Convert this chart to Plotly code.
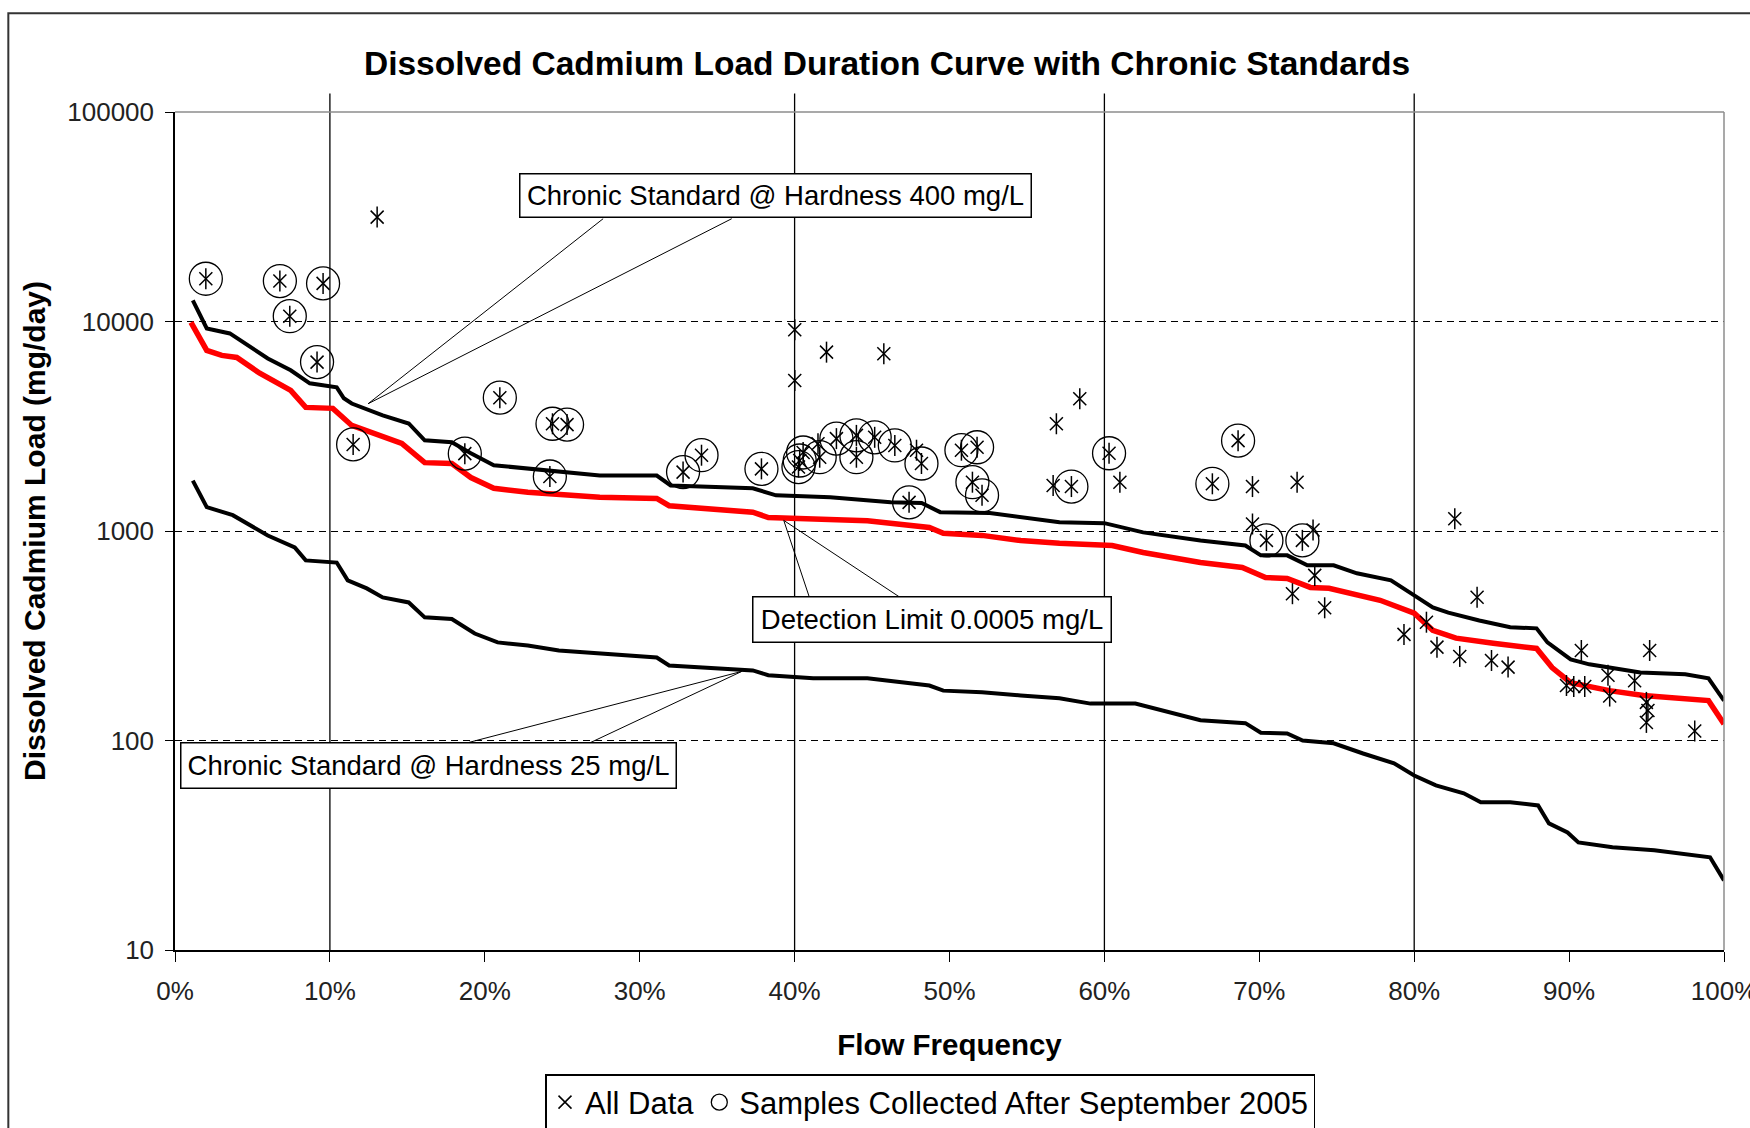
import plotly.graph_objects as go

# ---------------- data ----------------
# Chronic standard @ hardness 400 mg/L (upper black curve)
flow_400 = [1.15, 2.05, 3.54, 5.99, 7.47, 8.70, 10.44, 10.9, 11.41, 13.41, 15.09, 16.12, 17.87, 19.1,
            20.58, 22.78, 26.26, 27.42, 31.1, 32.0, 37.3, 38.8, 42.3, 46.2, 48.2, 49.4, 52.6, 54.6,
            57.1, 60.0, 62.5, 66.2, 69.1, 70.1, 71.8, 73.1, 74.8, 76.3, 78.5, 80.0, 81.2, 82.2, 84.2,
            86.2, 87.9, 88.6, 90.1, 91.3, 94.6, 97.5, 99.0, 100]
load_400 = [12600, 9270, 8770, 6660, 5850, 5070, 4850, 4300, 4060, 3560, 3260, 2710, 2650, 2350,
            2060, 1990, 1880, 1840, 1840, 1650, 1600, 1480, 1450, 1370, 1360, 1230, 1220, 1160,
            1100, 1090, 985, 900, 853, 765, 765, 686, 686, 628, 581, 493, 432, 408, 374,
            347, 343, 294, 244, 231, 211, 207, 198, 155]

# Detection limit 0.0005 mg/L (red curve)
flow_dl = [1.03, 2.05, 3.02, 3.99, 5.47, 7.47, 8.44, 10.19, 11.41, 13.41, 14.64, 16.12, 17.87, 19.1,
           20.58, 22.78, 25.2, 27.42, 31.1, 31.9, 37.3, 38.3, 44.7, 46.2, 48.7, 49.6, 52.1, 54.6,
           57.1, 60.5, 62.5, 66.2, 68.9, 70.4, 71.8, 73.3, 74.5, 77.8, 80.0, 81.2, 82.7, 85.1,
           87.9, 88.9, 90.1, 92.6, 94.8, 99.0, 100]
load_dl = [9900, 7280, 6890, 6740, 5660, 4690, 3890, 3850, 3190, 2800, 2620, 2120, 2100, 1800,
           1600, 1530, 1480, 1450, 1430, 1320, 1230, 1160, 1120, 1090, 1040, 975, 953, 900,
           873, 853, 790, 708, 670, 600, 593, 538, 533, 467, 405, 336, 308, 291,
           275, 223, 189, 173, 164, 155, 120]

# Chronic standard @ hardness 25 mg/L (lower black curve)
flow_25 = [1.15, 2.05, 3.73, 5.99, 7.73, 8.44, 10.44, 11.15, 12.38, 13.41, 15.09, 16.12, 17.87, 19.35,
           20.83, 22.78, 24.78, 27.42, 31.1, 31.9, 37.3, 38.3, 41.2, 44.7, 48.7, 49.6, 52.1, 54.6,
           57.1, 59.1, 62.0, 66.2, 69.1, 70.1, 71.8, 72.8, 74.8, 76.7, 78.7, 80.0, 81.4, 83.2,
           84.3, 86.2, 88.0, 88.7, 89.9, 90.6, 92.8, 95.5, 97.3, 99.1, 100]
load_25 = [1740, 1300, 1190, 952, 835, 724, 707, 581, 532, 482, 456, 387, 380, 324,
           294, 284, 269, 261, 249, 228, 216, 205, 198, 198, 183, 173, 170, 164,
           159, 150, 150, 125, 121, 109, 108, 100, 97, 86.7, 77.8, 68.1, 61.1, 56.0,
           50.7, 50.7, 49.0, 40.2, 36.4, 32.6, 30.9, 29.9, 28.9, 27.7, 21.5]

# Samples collected after September 2005 (circled points)
recent_flow = [1.99, 6.77, 9.56, 7.41, 9.17, 11.50, 20.97, 18.71, 24.37, 25.31, 24.20, 32.80, 33.99,
               37.86, 40.33, 40.25, 40.55, 41.62, 42.70, 43.99, 43.99, 45.17, 46.47, 48.19, 47.39,
               50.77, 51.78, 51.48, 52.10, 57.87, 60.30, 66.97, 68.63, 70.46, 72.78]
recent_load = [16000, 15600, 15200, 10600, 6400, 2590, 4330, 2340, 3250, 3220, 1820, 1910, 2300,
               1980, 2170, 2020, 2370, 2250, 2760, 2860, 2250, 2800, 2560, 2100, 1370,
               2430, 2510, 1710, 1480, 1630, 2350, 1680, 2700, 902, 902]

# Earlier samples (asterisk only)
older_flow = [13.05, 40.01, 42.06, 45.76, 40.01, 41.51, 47.87, 56.90, 58.41, 56.69, 61.0, 69.56,
              72.44, 69.56, 73.47, 73.58, 72.14, 74.22, 82.62, 84.06, 79.34, 80.79, 81.47, 82.94,
              84.99, 86.06, 90.79, 89.83, 90.30, 91.01, 92.51, 92.62, 94.23, 95.2, 94.99, 95.09,
              94.99, 98.11]
older_load = [31500, 9140, 7140, 7020, 5230, 2610, 2430, 3250, 4280, 1650, 1710, 1630,
              1710, 1080, 1010, 614, 502, 430, 1145, 483, 321, 367, 279, 252,
              241, 224, 269, 183, 181, 181, 205, 163, 193, 269, 152, 139,
              122, 111]

all_flow = recent_flow + older_flow
all_load = recent_load + older_load

x_tickvals = [0, 10, 20, 30, 40, 50, 60, 70, 80, 90, 100]
x_ticktext = ["0%", "10%", "20%", "30%", "40%", "50%", "60%", "70%", "80%", "90%", "100%"]
y_tickvals = [10, 100, 1000, 10000, 100000]
y_ticktext = ["10", "100", "1000", "10000", "100000"]
regime_lines = [10, 40, 60, 80]

# ---------------- figure ----------------
FONT = "Liberation Sans, Arial, sans-serif"
fig = go.Figure()

fig.add_trace(go.Scatter(x=flow_400, y=load_400, mode="lines", showlegend=False, hoverinfo="skip",
                         line=dict(color="black", width=4)))
fig.add_trace(go.Scatter(x=flow_dl, y=load_dl, mode="lines", showlegend=False, hoverinfo="skip",
                         line=dict(color="#ff0000", width=5.5)))
fig.add_trace(go.Scatter(x=flow_25, y=load_25, mode="lines", showlegend=False, hoverinfo="skip",
                         line=dict(color="black", width=4)))

fig.add_trace(go.Scatter(x=all_flow, y=all_load, mode="markers", name="All Data", legendgroup="all",
                         marker=dict(symbol="x-thin-open", size=13, color="black",
                                     line=dict(color="black", width=1.5))))
fig.add_trace(go.Scatter(x=all_flow, y=all_load, mode="markers", showlegend=False, legendgroup="all",
                         marker=dict(symbol="line-ns-open", size=15, color="black",
                                     line=dict(color="black", width=1.5))))
fig.add_trace(go.Scatter(x=recent_flow, y=recent_load, mode="markers",
                         name="Samples Collected After September 2005",
                         marker=dict(symbol="circle-open", size=33, color="black",
                                     line=dict(color="black", width=1.3))))

shapes = []
# outer chart border
shapes.append(dict(type="rect", xref="paper", yref="paper", x0=-0.1076, x1=1.2, y0=-0.5, y1=1.1177,
                   line=dict(color="#333333", width=2), fillcolor="rgba(0,0,0,0)", layer="below"))
# flow-regime divider lines
for v in regime_lines:
    shapes.append(dict(type="line", xref="x", yref="paper", x0=v, x1=v, y0=0, y1=1.022,
                       line=dict(color="black", width=1.3), layer="below"))
# plot-area border (top / right)
shapes.append(dict(type="line", xref="paper", yref="paper", x0=0, x1=1, y0=1, y1=1,
                   line=dict(color="#8c8c8c", width=1.5)))
shapes.append(dict(type="line", xref="paper", yref="paper", x0=1, x1=1, y0=0, y1=1,
                   line=dict(color="#8c8c8c", width=1.5)))
# leader lines
leaders = [
    ((27.64, 30950), (12.47, 4052)), ((35.94, 30950), (12.47, 4052)),
    ((40.98, 476.2), (39.30, 1123.6)), ((46.92, 476.2), (39.30, 1123.6)),
    ((18.97, 97.9), (36.59, 213.7)), ((26.84, 97.9), (36.59, 213.7)),
]
for (a, b) in leaders:
    shapes.append(dict(type="line", xref="x", yref="y", x0=a[0], y0=a[1], x1=b[0], y1=b[1],
                       line=dict(color="black", width=1)))

ann_font = dict(family=FONT, size=27.5, color="black")
annotations = [
    dict(x=38.75, y=4.5995, xref="x", yref="y", text="Chronic Standard @ Hardness 400 mg/L",
         showarrow=False, font=ann_font, bordercolor="black", borderwidth=1.5, borderpad=2,
         bgcolor="white", width=506, height=38),
    dict(x=48.85, y=2.5757, xref="x", yref="y", text="Detection Limit 0.0005 mg/L",
         showarrow=False, font=ann_font, bordercolor="black", borderwidth=1.5, borderpad=2,
         bgcolor="white", width=353, height=40),
    dict(x=16.35, y=1.8788, xref="x", yref="y", text="Chronic Standard @ Hardness 25 mg/L",
         showarrow=False, font=ann_font, bordercolor="black", borderwidth=1.5, borderpad=2,
         bgcolor="white", width=490, height=40),
]

fig.update_layout(
    width=1750, height=1128,
    margin=dict(l=175, r=26, t=112, b=178, autoexpand=False),
    paper_bgcolor="white", plot_bgcolor="white",
    hovermode=False,
    title=dict(text="<b>Dissolved Cadmium Load Duration Curve with Chronic Standards</b>",
               x=887 / 1750, xanchor="center", xref="container",
               y=1 - 63.6 / 1128, yanchor="middle", yref="container",
               font=dict(family=FONT, size=33.5, color="black")),
    xaxis=dict(range=[0, 100], tickvals=x_tickvals, ticktext=x_ticktext,
               ticks="outside", ticklen=10, tickwidth=1.3, tickcolor="black",
               showline=True, linecolor="black", linewidth=1.5, showgrid=False, zeroline=False,
               ticklabelstandoff=7, ticklabeloverflow="allow",
               tickfont=dict(family=FONT, size=26, color="#222222"),
               title=dict(text="<b>Flow Frequency</b>", standoff=29,
                          font=dict(family=FONT, size=29.5, color="black"))),
    yaxis=dict(type="log", range=[1, 5], tickvals=y_tickvals, ticktext=y_ticktext,
               ticks="outside", ticklen=8, tickwidth=1.3, tickcolor="black",
               showline=True, linecolor="black", linewidth=1.5,
               showgrid=True, gridcolor="black", gridwidth=1, griddash="7px,5px", zeroline=False,
               ticklabelstandoff=6, ticklabeloverflow="allow",
               tickfont=dict(family=FONT, size=26, color="#222222"),
               title=dict(text="<b>Dissolved Cadmium Load (mg/day)</b>", standoff=13,
                          font=dict(family=FONT, size=30, color="black"))),
    legend=dict(orientation="h", xref="container", yref="container",
                x=545 / 1750, xanchor="left", y=1 - 1074 / 1128, yanchor="top",
                bordercolor="black", borderwidth=1.5, bgcolor="white",
                font=dict(family=FONT, size=31, color="black")),
    shapes=shapes,
    annotations=annotations,
)

fig.write_html("out.html", config={"displayModeBar": False},
               post_script="document.body.style.margin='0px';document.body.style.overflow='hidden';")
